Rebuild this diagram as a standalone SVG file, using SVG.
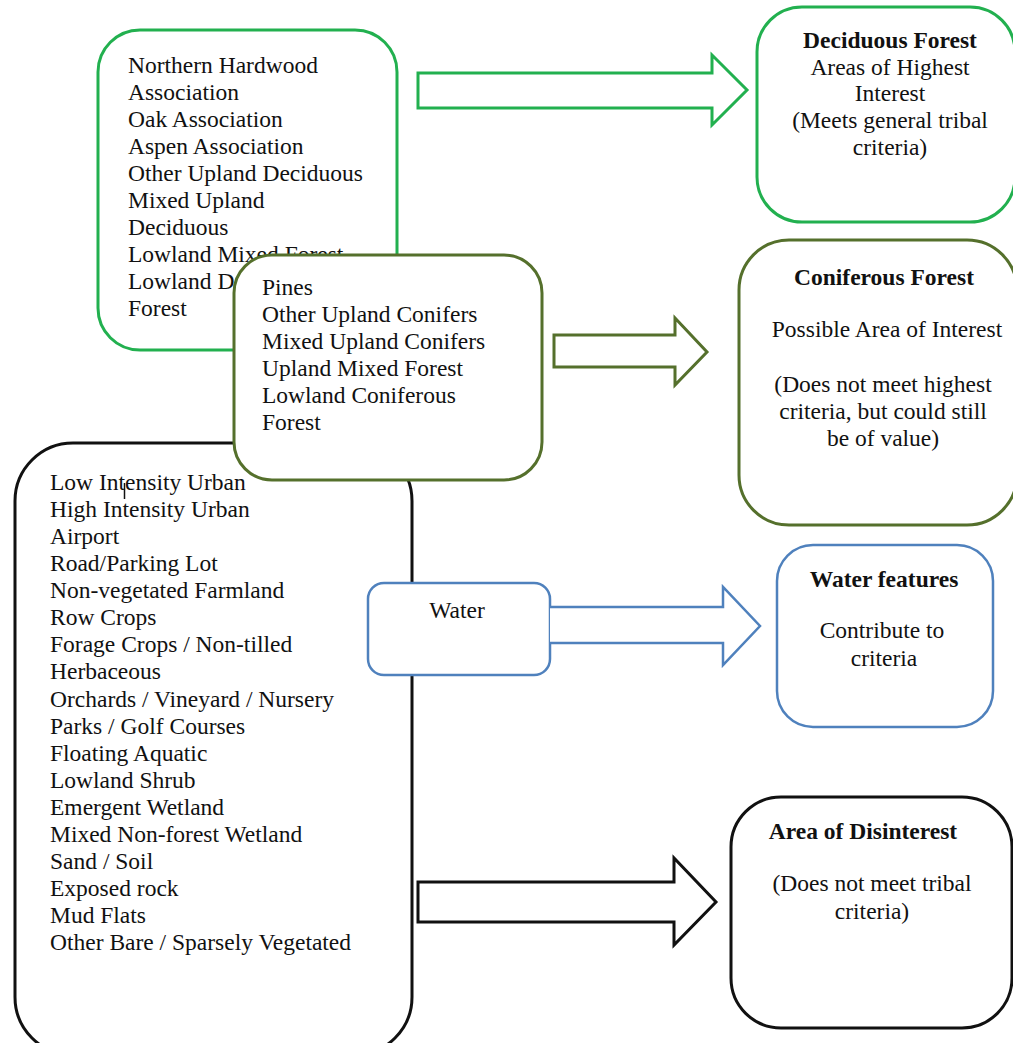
<svg xmlns="http://www.w3.org/2000/svg" width="1013" height="1043" viewBox="0 0 1013 1043">
<style>
.t{font-family:"Liberation Serif","Times New Roman",serif;font-size:23.5px;fill:#111}
.b{font-weight:bold}
.c{text-anchor:middle}
.box{fill:#fff}
.g{stroke:#22b04f;stroke-width:3}
.o{stroke:#55702c;stroke-width:3}
.k{stroke:#111;stroke-width:3}
.u{stroke:#4f81bd;stroke-width:2.5}
</style>
<rect width="1013" height="1043" fill="#fff"/>
<g id="deciduous-src">
<rect class="box g" x="98" y="30" width="299" height="320" rx="42"/>
<text class="t" x="128" y="73">Northern Hardwood</text>
<text class="t" x="128" y="100">Association</text>
<text class="t" x="128" y="127">Oak Association</text>
<text class="t" x="128" y="154">Aspen Association</text>
<text class="t" x="128" y="181">Other Upland Deciduous</text>
<text class="t" x="128" y="208">Mixed Upland</text>
<text class="t" x="128" y="235">Deciduous</text>
<text class="t" x="128" y="262">Lowland Mixed Forest</text>
<text class="t" x="128" y="289">Lowland Deciduous</text>
<text class="t" x="128" y="316">Forest</text>
</g>
<g id="disinterest-src">
<rect class="box k" x="15" y="443" width="397" height="612" rx="58"/>
<text class="t" x="50" y="490">Low Intensity Urban</text>
<line x1="124.5" y1="483" x2="124.5" y2="499" stroke="#111" stroke-width="1.5"/>
<text class="t" x="50" y="517">High Intensity Urban</text>
<text class="t" x="50" y="544">Airport</text>
<text class="t" x="50" y="571">Road/Parking Lot</text>
<text class="t" x="50" y="598">Non-vegetated Farmland</text>
<text class="t" x="50" y="625">Row Crops</text>
<text class="t" x="50" y="652">Forage Crops / Non-tilled</text>
<text class="t" x="50" y="679">Herbaceous</text>
<text class="t" x="50" y="707">Orchards / Vineyard / Nursery</text>
<text class="t" x="50" y="734">Parks / Golf Courses</text>
<text class="t" x="50" y="761">Floating Aquatic</text>
<text class="t" x="50" y="788">Lowland Shrub</text>
<text class="t" x="50" y="815">Emergent Wetland</text>
<text class="t" x="50" y="842">Mixed Non-forest Wetland</text>
<text class="t" x="50" y="869">Sand / Soil</text>
<text class="t" x="50" y="896">Exposed rock</text>
<text class="t" x="50" y="923">Mud Flats</text>
<text class="t" x="50" y="950">Other Bare / Sparsely Vegetated</text>
</g>
<g id="coniferous-src">
<rect class="box o" x="234" y="255" width="308" height="225" rx="38"/>
<text class="t" x="262" y="295">Pines</text>
<text class="t" x="262" y="322">Other Upland Conifers</text>
<text class="t" x="262" y="349">Mixed Upland Conifers</text>
<text class="t" x="262" y="376">Upland Mixed Forest</text>
<text class="t" x="262" y="403">Lowland Coniferous</text>
<text class="t" x="262" y="430">Forest</text>
</g>
<g id="water-src">
<rect class="box u" x="368" y="583" width="182" height="92" rx="16"/>
<text class="t c" x="457" y="618">Water</text>
</g>
<g id="connectors" fill="#fff">
<polygon class="g" points="418,73 712,73 712,55 747,90 712,125 712,108 418,108"/>
<polygon class="o" points="554,335 675,335 675,318 707,352 675,385 675,367 554,367"/>
<polyline class="u" points="550,607 723,607 723,587 760,626 723,665 723,643 550,643"/>
<polygon class="k" points="418,882 674,882 674,858 716,902 674,945 674,922 418,922"/>
</g>
<g id="deciduous-forest">
<rect class="box g" x="757" y="7" width="258" height="215" rx="45"/>
<text class="t b c" x="890" y="48">Deciduous Forest</text>
<text class="t c" x="890" y="75">Areas of Highest</text>
<text class="t c" x="890" y="101">Interest</text>
<text class="t c" x="890" y="128">(Meets general tribal</text>
<text class="t c" x="890" y="155">criteria)</text>
</g>
<g id="coniferous-forest">
<rect class="box o" x="739" y="240" width="278" height="285" rx="50"/>
<text class="t b c" x="884" y="285">Coniferous Forest</text>
<text class="t c" x="887" y="337">Possible Area of Interest</text>
<text class="t c" x="883" y="392">(Does not meet highest</text>
<text class="t c" x="883" y="419">criteria, but could still</text>
<text class="t c" x="883" y="446">be of value)</text>
</g>
<g id="water-features">
<rect class="box u" x="777" y="545" width="216" height="182" rx="36"/>
<text class="t b c" x="884" y="587">Water features</text>
<text class="t c" x="882" y="638">Contribute to</text>
<text class="t c" x="884" y="666">criteria</text>
</g>
<g id="area-of-disinterest">
<rect class="box k" x="731" y="797" width="281" height="231" rx="50"/>
<text class="t b c" x="863" y="839">Area of Disinterest</text>
<text class="t c" x="872" y="891">(Does not meet tribal</text>
<text class="t c" x="872" y="919">criteria)</text>
</g>
</svg>
